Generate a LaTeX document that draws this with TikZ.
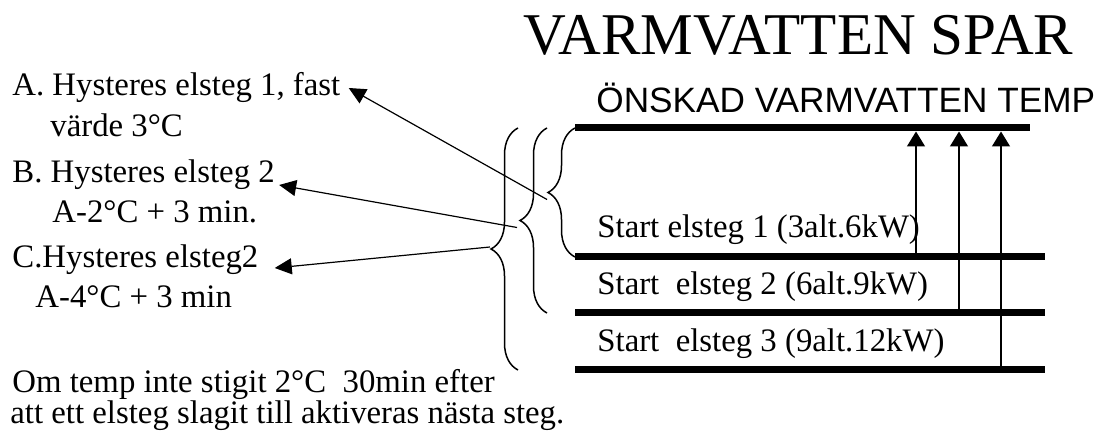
\documentclass[tikz,border=0pt]{standalone}
\usepackage{fontspec}
\setmainfont{Liberation Serif}
\newfontfamily\arialfont{Liberation Sans}
\usetikzlibrary{arrows.meta, calc, decorations.pathreplacing}
\tikzset{
  txt/.style = {
    inner sep=0pt,
    anchor=base west,
    font=\fontsize{16.4}{19}\selectfont,
  },
  level/.style = {
    line width=3.5pt,
  },
  riser/.style = {
    -{Triangle[width=9pt, length=7.5pt]},
    line width=.75pt,
  },
  pointer/.style = {
    -{Triangle[width=8pt, length=8.5pt]},
    line width=.6pt,
  },
  hyst/.style = {
    decorate,
    decoration={brace, amplitude=13.5pt},
    line width=.75pt,
  },
}

\begin{document}
\begin{tikzpicture}[x=.5pt, y=-.5pt]
\useasboundingbox (0,0) rectangle (1103,432);

\node(Title)[anchor=base west, inner sep=0pt, font=\fontsize{29.6}{36}\selectfont]
  at (523,55) {VARMVATTEN SPAR};
\node(Desired)[anchor=base west, inner sep=0pt, font=\arialfont\fontsize{17.6}{20}\selectfont]
  at (596,113) {ÖNSKAD VARMVATTEN TEMP};

\coordinate (LevelTop) at (575,128);
\coordinate (LevelOne) at (575,257);
\coordinate (LevelTwo) at (575,313);
\coordinate (LevelThree) at (575,370);

\draw[level] (LevelTop) -- ++(455,0);
\draw[level] (LevelOne) -- ++(470,0);
\draw[level] (LevelTwo) -- ++(470,0);
\draw[level] (LevelThree) -- ++(470,0);

\node(StartOne)[txt] at (597,238) {Start elsteg 1 (3alt.6kW)};
\node(StartTwo)[txt] at (597,295) {Start\ \ elsteg 2 (6alt.9kW)};
\node(StartThree)[txt] at (597,352) {Start\ \ elsteg 3 (9alt.12kW)};

\draw[riser] ([shift={(341,-3.5)}]LevelOne) -- ([shift={(341,3.5)}]LevelTop);
\draw[riser] ([shift={(384,-3.5)}]LevelTwo) -- ([shift={(384,3.5)}]LevelTop);
\draw[riser] ([shift={(426,-3.5)}]LevelThree) -- ([shift={(426,3.5)}]LevelTop);

\draw[hyst] (LevelOne) -- (LevelTop);
\draw[hyst] ([xshift=-14pt]LevelTwo) -- ([xshift=-14pt]LevelTop);
\draw[hyst] ([xshift=-28.5pt]LevelThree) -- ([xshift=-28.5pt]LevelTop);

\coordinate (TipA) at ($(LevelOne)!.5!(LevelTop)+(-27,0)$);
\coordinate (TipB) at ($(LevelTwo)!.5!(LevelTop)+(-55,0)$);
\coordinate (TipC) at ($(LevelThree)!.5!(LevelTop)+(-83,0)$);

\node(HystA)[txt] at (12,96) {A. Hysteres elsteg 1, fast};
\node(HystAValue)[txt] at (50,137) {värde 3°C};
\node(HystB)[txt] at (12,183) {B. Hysteres elsteg 2};
\node(HystBValue)[txt] at (52,223) {A-2°C + 3 min.};
\node(HystC)[txt] at (12,268) {C.Hysteres elsteg2};
\node(HystCValue)[txt] at (35,308) {A-4°C + 3 min};

\node(NoteOne)[txt] at (12,393) {Om temp inte stigit 2°C\ \ 30min efter};
\node(NoteTwo)[txt] at (10,423) {att ett elsteg slagit till aktiveras nästa steg.};

\draw[pointer] ($(TipA)+(-1,7)$) -- ($(HystA.base east)+(8,-8)$);
\draw[pointer] ($(TipB)+(-3,7)$) -- ($(HystB.base east)+(4,2)$);
\draw[pointer] ($(TipC)+(-2,-2)$) -- ($(HystC.base east)+(16,0)$);

\end{tikzpicture}
\end{document}
